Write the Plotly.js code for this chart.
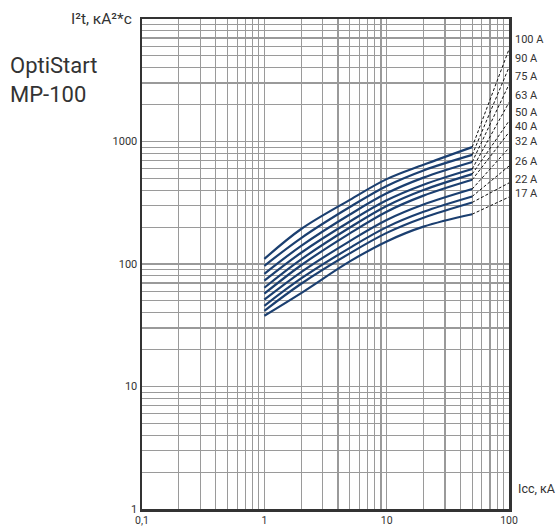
<!DOCTYPE html>
<html>
<head>
<meta charset="utf-8">
<script src="https://cdn.plot.ly/plotly-3.0.1.min.js"></script>
<style>
html,body{margin:0;padding:0;background:#fff;}
#chart{width:556px;height:531px;}
</style>
</head>
<body>
<div id="chart"></div>
<script>
// ---- data ----
const seriesNames = ['100 A','90 A','75 A','63 A','50 A','40 A','32 A','26 A','22 A','17 A'];
const iccPoints = [1, 2, 5, 10, 20, 50];               // kA
const i2t_100A = [110, 193, 334, 493, 646, 900];
const i2t_90A  = [96.6, 162.8, 291.7, 433.6, 580.8, 778];
const i2t_75A  = [83.2, 140.6, 253.5, 377.6, 507, 680];
const i2t_63A  = [73.1, 123.6, 222.3, 331, 443.6, 596];
const i2t_50A  = [64.0, 109.1, 198.6, 297.8, 401.8, 542];
const i2t_40A  = [57.2, 97.7, 177.8, 267.3, 361.4, 487];
const i2t_32A  = [51.1, 85.9, 153.8, 228.6, 305.5, 409];
const i2t_26A  = [45.6, 76.2, 135.5, 200, 266.7, 356];
const i2t_22A  = [41.5, 69.0, 122.2, 179.5, 238.8, 318];
const i2t_17A  = [37.8, 57.9, 105, 153, 202, 255];
const leaderX = [50, 100];
const leaderEndAt100 = [5657, 4034, 2920, 2085, 1470, 1189, 887, 630, 459, 352];
const labelLevels    = [6761, 4797, 3397, 2374, 1740, 1330, 1000, 687, 493, 379];
const xDecades = [0.1, 1, 10, 100];
const xDecadeLabels = ['0,1', '1', '10', '100'];
const yDecades = [1, 10, 100, 1000, 10000];
const yDecadeLabels = ['1', '10', '100', '1000', ''];

const allSeries = [i2t_100A, i2t_90A, i2t_75A, i2t_63A, i2t_50A, i2t_40A, i2t_32A, i2t_26A, i2t_22A, i2t_17A];

const FONT = 'Roboto, sans-serif';
const TEXT = '#333333';

// grid positions: every 1..9 of each decade
function gridFor(decades) {
  const vals = [], txt = [];
  decades.forEach((d, i) => {
    if (i < decades.length - 1) {
      for (let k = 1; k <= 9; k++) { vals.push(d * k); txt.push(k === 1 ? null : ''); }
    } else { vals.push(d); txt.push(null); }
  });
  return {vals, txt};
}
const gx = gridFor(xDecades);
const gxText = gx.vals.map((v, i) => gx.txt[i] === '' ? '' : xDecadeLabels[xDecades.indexOf(v)]);
const gy = gridFor(yDecades);
const gyText = gy.vals.map((v, i) => gy.txt[i] === '' ? '' : yDecadeLabels[yDecades.indexOf(v)]);

const traces = [];
allSeries.forEach((ys, i) => {
  traces.push({
    x: iccPoints, y: ys, type: 'scatter', mode: 'lines', name: seriesNames[i],
    line: {color: '#1b3f70', width: 2.2, shape: 'spline', smoothing: 1},
    hoverinfo: 'skip'
  });
  traces.push({
    x: leaderX, y: [ys[ys.length - 1], leaderEndAt100[i]], type: 'scatter', mode: 'lines',
    line: {color: '#111', width: 1, dash: '3px,2px'}, hoverinfo: 'skip'
  });
});

const annotations = seriesNames.map((n, i) => ({
  x: Math.log10(100), y: Math.log10(labelLevels[i]), xref: 'x', yref: 'y',
  text: n, showarrow: false, xanchor: 'left', yanchor: 'middle', xshift: 5, borderpad: 0,
  font: {family: FONT, size: 11, color: TEXT}
}));
annotations.push({
  x: 0, y: 1, xref: 'paper', yref: 'paper', text: 'I²t, кА²*с', showarrow: false,
  xanchor: 'right', yanchor: 'middle', xshift: -8, yshift: 0,
  font: {family: FONT, size: 15.5, color: TEXT}
});
annotations.push({
  x: 1, y: 0, xref: 'paper', yref: 'paper', text: 'Icc, кА', showarrow: false,
  xanchor: 'left', yanchor: 'bottom', xshift: 7, yshift: 11,
  font: {family: FONT, size: 12.5, color: TEXT}
});

const axisCommon = {
  type: 'log', ticks: '', showgrid: true, gridcolor: '#9a9a9a', gridwidth: 1.2,
  showline: true, linecolor: '#333', linewidth: 2.5, mirror: true, zeroline: false,
  tickmode: 'array', fixedrange: true
};

const layout = {
  width: 556, height: 531,
  margin: {l: 142, r: 47, t: 19, b: 22, pad: 0},
  paper_bgcolor: '#fff', plot_bgcolor: '#fff',
  showlegend: false,
  title: {
    text: 'OptiStart<br>MP-100', xref: 'container', yref: 'container',
    x: 10 / 556, xanchor: 'left', y: 1 - 73 / 531, yanchor: 'middle',
    font: {family: FONT, size: 22, color: TEXT}
  },
  xaxis: Object.assign({}, axisCommon, {
    range: [-1, 2], tickvals: gx.vals, ticktext: gxText,
    tickfont: {family: FONT, size: 10.5, color: TEXT}
  }),
  yaxis: Object.assign({}, axisCommon, {
    range: [0, 4], tickvals: gy.vals, ticktext: gyText,
    tickfont: {family: FONT, size: 11, color: TEXT}
  }),
  annotations: annotations
};

Plotly.newPlot('chart', traces, layout, {staticPlot: true, displayModeBar: false});
</script>
</body>
</html>
